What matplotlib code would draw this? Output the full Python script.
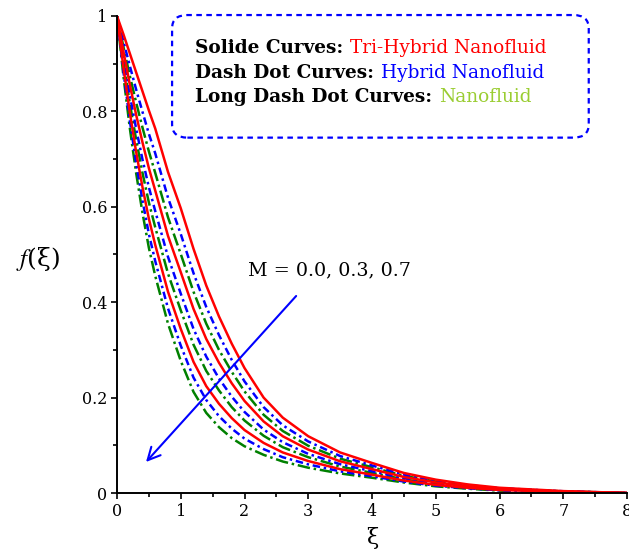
import matplotlib
matplotlib.use("Agg")
import matplotlib.pyplot as plt
from matplotlib.patches import FancyBboxPatch
from matplotlib.ticker import MultipleLocator

plt.rcParams['font.family'] = ['DejaVu Serif']
plt.rcParams['mathtext.fontset'] = 'stix'

xi = [0, 0.1, 0.2, 0.3, 0.4, 0.5, 0.6, 0.8, 1.0, 1.2, 1.4, 1.6, 1.8, 2.0,
      2.3, 2.6, 3.0, 3.5, 4.0, 4.5, 5.0, 5.5, 6.0, 7.0, 8.0]

# Tri-hybrid nanofluid (solid red), M = 0.0, 0.3, 0.7
tri_M00 = [1.0, 0.962, 0.922, 0.882, 0.842, 0.802, 0.764, 0.673, 0.597, 0.512, 0.435, 0.370, 0.313, 0.262,
           0.200, 0.158, 0.119, 0.085, 0.063, 0.042, 0.028, 0.018, 0.011, 0.004, 0.0]
tri_M03 = [1.0, 0.926, 0.857, 0.793, 0.735, 0.681, 0.634, 0.539, 0.463, 0.386, 0.323, 0.273, 0.230, 0.193,
           0.150, 0.119, 0.091, 0.0665, 0.050, 0.0336, 0.0221, 0.0142, 0.0085, 0.0032, 0.0]
tri_M07 = [1.0, 0.893, 0.799, 0.715, 0.641, 0.575, 0.520, 0.422, 0.344, 0.275, 0.224, 0.187, 0.157, 0.132,
           0.105, 0.085, 0.067, 0.050, 0.0385, 0.0262, 0.017, 0.0109, 0.0063, 0.0024, 0.0]
# Hybrid nanofluid (dash dot blue)
hyb_M00 = [1.0, 0.947, 0.896, 0.846, 0.799, 0.753, 0.712, 0.619, 0.543, 0.461, 0.390, 0.331, 0.279, 0.234,
           0.180, 0.142, 0.108, 0.0775, 0.0577, 0.0386, 0.0256, 0.0165, 0.010, 0.0037, 0.0]
hyb_M03 = [1.0, 0.913, 0.835, 0.764, 0.699, 0.641, 0.591, 0.495, 0.418, 0.344, 0.286, 0.240, 0.202, 0.170,
           0.133, 0.1065, 0.082, 0.0604, 0.0456, 0.0308, 0.0202, 0.013, 0.0076, 0.0029, 0.0]
hyb_M07 = [1.0, 0.884, 0.782, 0.692, 0.613, 0.543, 0.486, 0.387, 0.309, 0.242, 0.195, 0.161, 0.135, 0.114,
           0.092, 0.075, 0.060, 0.0454, 0.0351, 0.024, 0.0154, 0.0099, 0.0056, 0.0022, 0.0]
# Nanofluid (long dash dot green)
nan_M00 = [1.0, 0.936, 0.875, 0.819, 0.766, 0.716, 0.671, 0.578, 0.501, 0.422, 0.355, 0.300, 0.254, 0.213,
           0.164, 0.130, 0.099, 0.072, 0.054, 0.036, 0.024, 0.0153, 0.0092, 0.0034, 0.0]
nan_M03 = [1.0, 0.904, 0.818, 0.741, 0.671, 0.609, 0.557, 0.460, 0.383, 0.311, 0.256, 0.215, 0.180, 0.152,
           0.120, 0.096, 0.075, 0.0555, 0.0422, 0.0286, 0.0186, 0.012, 0.007, 0.0027, 0.0]
nan_M07 = [1.0, 0.875, 0.766, 0.671, 0.587, 0.514, 0.455, 0.355, 0.277, 0.212, 0.168, 0.138, 0.115, 0.098,
           0.080, 0.066, 0.053, 0.041, 0.032, 0.022, 0.014, 0.009, 0.005, 0.002, 0.0]

fig = plt.figure(figsize=(6.29, 5.51), dpi=100)
ax = fig.add_axes([117/629, 58/551, 510/629, 477/551])

lw = 1.8
for y in (nan_M00, nan_M03, nan_M07):
    ax.plot(xi, y, color='#008000', lw=lw, dashes=(5, 1.5, 1, 1.5))
for y in (hyb_M00, hyb_M03, hyb_M07):
    ax.plot(xi, y, color='#0000ff', lw=lw, dashes=(3, 1.5, 1, 1.5))
for y in (tri_M00, tri_M03, tri_M07):
    ax.plot(xi, y, color='#ff0000', lw=lw, ls='-')

ax.set_xlim(0, 8)
ax.set_ylim(0, 1)
ax.xaxis.set_major_locator(MultipleLocator(1))
ax.xaxis.set_minor_locator(MultipleLocator(0.5))
ax.yaxis.set_minor_locator(MultipleLocator(0.1))
ax.set_yticks([0, 0.2, 0.4, 0.6, 0.8, 1.0])
ax.set_yticklabels(['0', '0.2', '0.4', '0.6', '0.8', '1'])
for s in ('top', 'right'):
    ax.spines[s].set_visible(False)
for s in ('left', 'bottom'):
    ax.spines[s].set_linewidth(1.4)
ax.tick_params(which='both', direction='out', length=4, width=1.2, labelsize=11.5, colors='black', pad=3)
ax.tick_params(which='minor', length=3)

ax.set_xlabel('ξ', fontsize=16, labelpad=5)
ax.set_ylabel(r'$\mathit{f}$(ξ)', fontsize=18, rotation=0, va='center')
ax.yaxis.set_label_coords(-0.155, 0.49)

# legend box
box = FancyBboxPatch((0.108, 0.745), 0.817, 0.257, transform=ax.transAxes,
                     boxstyle='round,pad=0,rounding_size=0.03', fill=False,
                     ec='#0000ff', lw=1.6, ls=(0, (2.5, 2)), clip_on=False,
                     mutation_aspect=477/510)
ax.add_patch(box)

lines = [("Solide Curves: ", "Tri-Hybrid Nanofluid", '#ff0000'),
         ("Dash Dot Curves: ", "Hybrid Nanofluid", '#0000ff'),
         ("Long Dash Dot Curves: ", "Nanofluid", '#9acd32')]
ys = [0.922, 0.870, 0.820]
for (b, c, col), yy in zip(lines, ys):
    t1 = ax.text(0.153, yy, b, transform=ax.transAxes, fontsize=13.3,
                 fontweight='bold', va='baseline', ha='left')
    ax.annotate(c, xy=(1, 0), xycoords=t1, fontsize=13.3, color=col,
                va='bottom', ha='left')

ax.text(2.05, 0.457, 'M = 0.0, 0.3, 0.7', fontsize=13.8, va='baseline', ha='left')
ax.annotate('', xy=(0.455, 0.065), xytext=(2.81, 0.413),
            arrowprops=dict(arrowstyle='->,head_length=0.9,head_width=0.45',
                            color='#0000ff', lw=1.5, shrinkA=0, shrinkB=0))

fig.savefig('out.png', dpi=100)
